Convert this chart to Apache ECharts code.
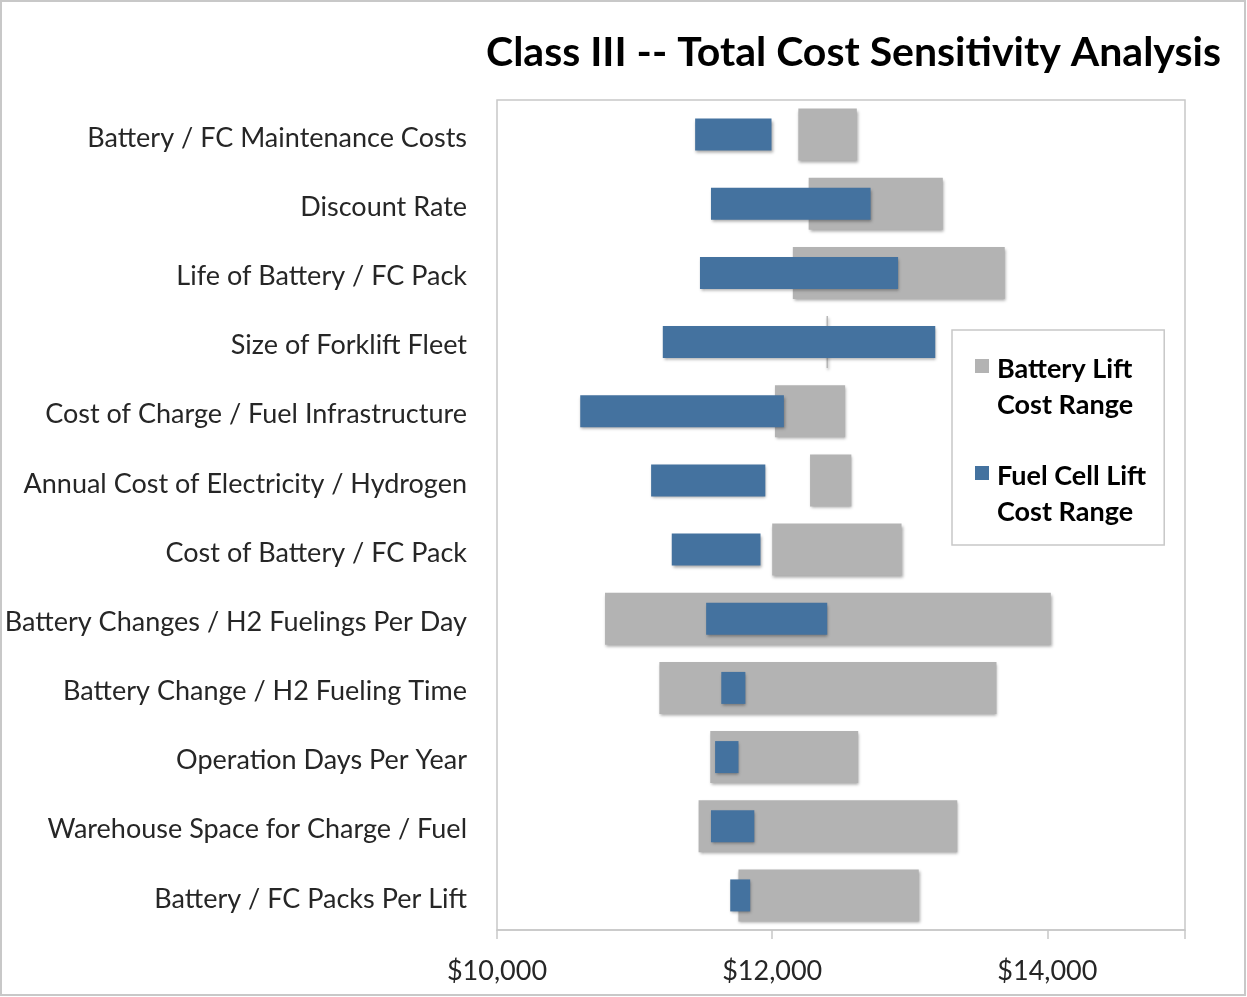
<!DOCTYPE html>
<html>
<head>
<meta charset="utf-8">
<script src="https://cdn.jsdelivr.net/npm/echarts@6/dist/echarts.min.js"></script>
<style>
html,body{margin:0;padding:0;background:#fff;}
#chart{width:1247px;height:997px;}
</style>
</head>
<body>
<div id="chart"></div>
<script>
const categories = [
  'Battery / FC Maintenance Costs',
  'Discount Rate',
  'Life of Battery / FC Pack',
  'Size of Forklift Fleet',
  'Cost of Charge / Fuel Infrastructure',
  'Annual Cost of Electricity / Hydrogen',
  'Cost of Battery / FC Pack',
  'Battery Changes / H2 Fuelings Per Day',
  'Battery Change / H2 Fueling Time',
  'Operation Days Per Year',
  'Warehouse Space for Charge / Fuel',
  'Battery / FC Packs Per Lift'
];
const batteryLow  = [12190, 12265, 12150, 12395, 12020, 12275, 12000, 10785, 11180, 11550, 11465, 11755];
const batteryHigh = [12615, 13240, 13690, 12405, 12530, 12575, 12940, 14025, 13630, 12625, 13345, 13065];
const fuelLow     = [11440, 11555, 11475, 11205, 10605, 11120, 11270, 11520, 11630, 11585, 11555, 11695];
const fuelHigh    = [11995, 12715, 12915, 13185, 12085, 11950, 11915, 12400, 11805, 11755, 11870, 11840];
const xTicks = [10000, 12000, 14000];

const batteryName = 'Battery Lift Cost Range';
const fuelName = 'Fuel Cell Lift Cost Range';
const legendLabels = {};
legendLabels[batteryName] = 'Battery Lift\nCost Range';
legendLabels[fuelName] = 'Fuel Cell Lift\nCost Range';

const batteryRange = batteryHigh.map((h, i) => h - batteryLow[i]);
const fuelRange = fuelHigh.map((h, i) => h - fuelLow[i]);

const FONT = 'Lato';
const GRAY = '#b3b3b3';
const BLUE = '#44729f';
const shadow = {shadowColor: 'rgba(0,0,0,0.35)', shadowBlur: 3, shadowOffsetX: 1, shadowOffsetY: 2};
const iconPath = 'path://M0,0L14,0L14,14L0,14Z M0,56L0.001,56L0,56Z';

const chart = echarts.init(document.getElementById('chart'));
chart.setOption({
  animation: false,
  backgroundColor: '#fff',
  title: {
    text: 'Class III -- Total Cost Sensitivity Analysis',
    right: 21, top: 27,
    textStyle: {fontFamily: FONT, fontWeight: 'bold', fontSize: 41, color: '#000'}
  },
  graphic: [{
    type: 'rect', shape: {x: 1, y: 1, width: 1244, height: 994},
    style: {fill: 'none', stroke: '#c8c8c8', lineWidth: 2}, z: -1
  }],
  legend: {
    orient: 'vertical',
    left: 952, top: 330,
    padding: [21, 18, 15, 23],
    itemGap: 35,
    itemWidth: 14, itemHeight: 56,
    icon: iconPath,
    backgroundColor: '#fff',
    borderColor: '#c8c8c8', borderWidth: 1.5,
    data: [batteryName, fuelName],
    formatter: n => legendLabels[n],
    textStyle: {fontFamily: FONT, fontWeight: 'bold', fontSize: 27, lineHeight: 36, color: '#000', padding: [0, 0, 0, 3]}
  },
  grid: {left: 497, right: 62, top: 100, bottom: 67, show: true, borderColor: '#c8c8c8', borderWidth: 1.5, containLabel: false},
  xAxis: {
    type: 'value', min: 10000, max: 15000, interval: 2000,
    axisLine: {show: true, lineStyle: {color: '#c8c8c8', width: 1.5}},
    axisTick: {show: true, length: 9, lineStyle: {color: '#c8c8c8', width: 1.5}},
    splitLine: {show: false},
    axisLabel: {
      margin: 28, fontFamily: FONT, fontSize: 27, color: '#262626',
      formatter: v => xTicks.indexOf(v) >= 0 ? '$' + v.toLocaleString('en-US') : ''
    }
  },
  yAxis: [{
    type: 'category', data: categories, inverse: true,
    axisLine: {show: false}, axisTick: {show: false},
    axisLabel: {
      margin: 30, fontFamily: FONT, fontSize: 27, color: '#262626',
      formatter: v => '{a|' + v + '}',
      rich: {a: {fontFamily: FONT, fontSize: 27, color: '#262626', padding: [7, 0, 0, 0]}}
    }
  }, {
    type: 'category', data: categories, inverse: true, show: false
  }],
  series: [
    {name: 'bBase', type: 'bar', stack: 'battery', yAxisIndex: 0, barWidth: 52, data: batteryLow,
     itemStyle: {color: 'rgba(0,0,0,0)'}, silent: true, legendHoverLink: false},
    {name: batteryName, type: 'bar', stack: 'battery', yAxisIndex: 0, barWidth: 52, data: batteryRange,
     itemStyle: Object.assign({color: GRAY}, shadow)},
    {name: 'fBase', type: 'bar', stack: 'fuel', yAxisIndex: 1, barWidth: 32, data: fuelLow,
     itemStyle: {color: 'rgba(0,0,0,0)'}, silent: true, legendHoverLink: false},
    {name: fuelName, type: 'bar', stack: 'fuel', yAxisIndex: 1, barWidth: 32, data: fuelRange,
     itemStyle: Object.assign({color: BLUE}, shadow)}
  ]
});
</script>
</body>
</html>
